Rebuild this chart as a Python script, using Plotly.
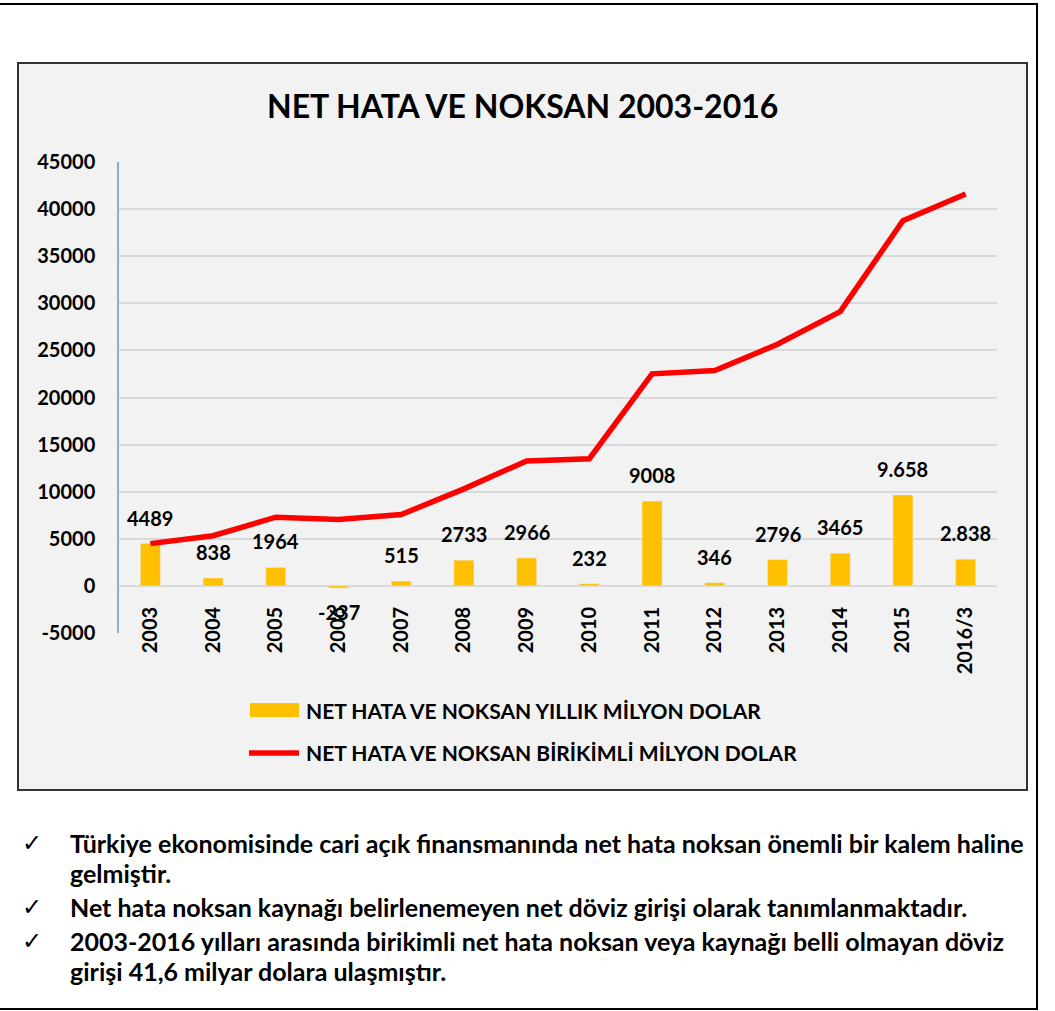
import plotly.graph_objects as go

# ---- data ----
categories = ["2003", "2004", "2005", "2006", "2007", "2008", "2009",
              "2010", "2011", "2012", "2013", "2014", "2015", "2016/3"]
annual = [4489, 838, 1964, -237, 515, 2733, 2966, 232, 9008, 346, 2796, 3465, 9658, 2838]
annual_labels = ["4489", "838", "1964", "-237", "515", "2733", "2966", "232",
                 "9008", "346", "2796", "3465", "9.658", "2.838"]
cumulative = [4489, 5327, 7291, 7054, 7569, 10302, 13268, 13500,
              22508, 22854, 25650, 29115, 38773, 41611]
y_ticks = [-5000, 0, 5000, 10000, 15000, 20000, 25000, 30000, 35000, 40000, 45000]

title_text = "NET HATA VE NOKSAN 2003-2016"
legend_bar = "NET HATA VE NOKSAN YILLIK MİLYON DOLAR"
legend_line = "NET HATA VE NOKSAN BİRİKİMLİ MİLYON DOLAR"
notes = [
    ("✓", "Türkiye ekonomisinde cari açık finansmanında net hata noksan önemli bir kalem haline"),
    ("", "gelmiştir."),
    ("✓", "Net hata noksan kaynağı belirlenemeyen net döviz girişi olarak tanımlanmaktadır."),
    ("✓", "2003-2016 yılları arasında birikimli net hata noksan veya kaynağı belli olmayan döviz"),
    ("", "girişi 41,6 milyar dolara ulaşmıştır."),
]

# ---- layout geometry (page pixels) ----
W, H = 1055, 1011
PL, PR, PT, PB = 119, 997, 162, 633  # plot area
FONT = "Lato"
BAR_COLOR = "#FFC000"
LINE_COLOR = "#FF0000"


def px(x):
    return (x - PL) / (PR - PL)


def py(y):
    return (PB - y) / (PB - PT)


fig = go.Figure()
fig.add_trace(go.Bar(x=categories, y=annual, marker_color=BAR_COLOR,
                     name=legend_bar, showlegend=False))
fig.add_trace(go.Scatter(x=categories, y=cumulative, mode="lines",
                         line=dict(color=LINE_COLOR, width=5.5),
                         name=legend_line, showlegend=False))

annotations = []
bold20 = dict(family=FONT, size=20, color="black", weight="bold")
# data labels
for i, (v, lab) in enumerate(zip(annual, annual_labels)):
    if v >= 0:
        annotations.append(dict(x=i, y=v, xref="x", yref="y", text=lab, showarrow=False,
                                yanchor="bottom", yshift=12, font=bold20))
    else:
        annotations.append(dict(x=i, y=v, xref="x", yref="y", text=lab, showarrow=False,
                                yanchor="top", yshift=-10, font=bold20))

# title
annotations.append(dict(x=px(522), y=py(105), xref="paper", yref="paper", text=title_text,
                        showarrow=False, xanchor="center", yanchor="middle",
                        font=dict(family=FONT, size=32, color="black", weight="bold")))
# legend texts
annotations.append(dict(x=px(304), y=py(710), xref="paper", yref="paper", text=legend_bar,
                        showarrow=False, xanchor="left", yanchor="middle",
                        font=dict(family=FONT, size=21, color="black", weight="bold")))
annotations.append(dict(x=px(304), y=py(752), xref="paper", yref="paper", text=legend_line,
                        showarrow=False, xanchor="left", yanchor="middle",
                        font=dict(family=FONT, size=21, color="black", weight="bold")))
# notes
note_y = [843, 873, 907, 941, 971]
for (mark, txt), yy in zip(notes, note_y):
    if mark:
        annotations.append(dict(x=px(32), y=py(yy), xref="paper", yref="paper", text=mark,
                                showarrow=False, xanchor="center", yanchor="middle",
                                font=dict(family="DejaVu Sans", size=24, color="black")))
    annotations.append(dict(x=px(68), y=py(yy), xref="paper", yref="paper", text=txt,
                            showarrow=False, xanchor="left", yanchor="middle",
                            font=dict(family=FONT, size=25, color="black", weight="bold")))

shapes = [
    # outer frame
    dict(type="rect", xref="paper", yref="paper", x0=px(-6), x1=px(1037), y0=py(1009), y1=py(4),
         line=dict(color="black", width=2), fillcolor="rgba(0,0,0,0)", layer="below"),
    # chart box
    dict(type="rect", xref="paper", yref="paper", x0=px(18), x1=px(1027), y0=py(790), y1=py(63),
         line=dict(color="#333333", width=2), fillcolor="#F2F2F2", layer="below"),
    # legend symbols
    dict(type="rect", xref="paper", yref="paper", x0=px(250), x1=px(299), y0=py(717), y1=py(703),
         line=dict(width=0), fillcolor=BAR_COLOR),
    dict(type="line", xref="paper", yref="paper", x0=px(249), x1=px(299), y0=py(753), y1=py(753),
         line=dict(color=LINE_COLOR, width=5.5)),
]

fig.update_layout(
    width=W, height=H,
    margin=dict(l=PL, r=W - PR, t=PT, b=H - PB, pad=0),
    paper_bgcolor="white",
    plot_bgcolor="#F2F2F2",
    bargap=0.68,
    showlegend=False,
    annotations=annotations,
    shapes=shapes,
    font=dict(family=FONT, color="black"),
)
fig.update_xaxes(type="category", anchor="free", position=0.1, tickangle=-90,
                 showgrid=False, showline=False,
                 ticks="outside", ticklen=12, tickcolor="rgba(0,0,0,0)",
                 tickfont=bold20,
                 range=[-0.5, len(categories) - 0.5])
fig.update_yaxes(range=[-5000, 45000], tickvals=y_ticks, ticktext=[str(t) for t in y_ticks],
                 showgrid=True, gridcolor="#D9D9D9", gridwidth=1.5,
                 zeroline=True, zerolinecolor="#D9D9D9", zerolinewidth=1.5,
                 showline=True, linecolor="#8FAADC", linewidth=1.5,
                 ticks="outside", ticklen=18, tickcolor="rgba(0,0,0,0)",
                 tickfont=bold20)

fig.write_html("out.html", config={"displayModeBar": False},
               post_script="document.body.style.margin='0';document.body.style.overflow='hidden';")
